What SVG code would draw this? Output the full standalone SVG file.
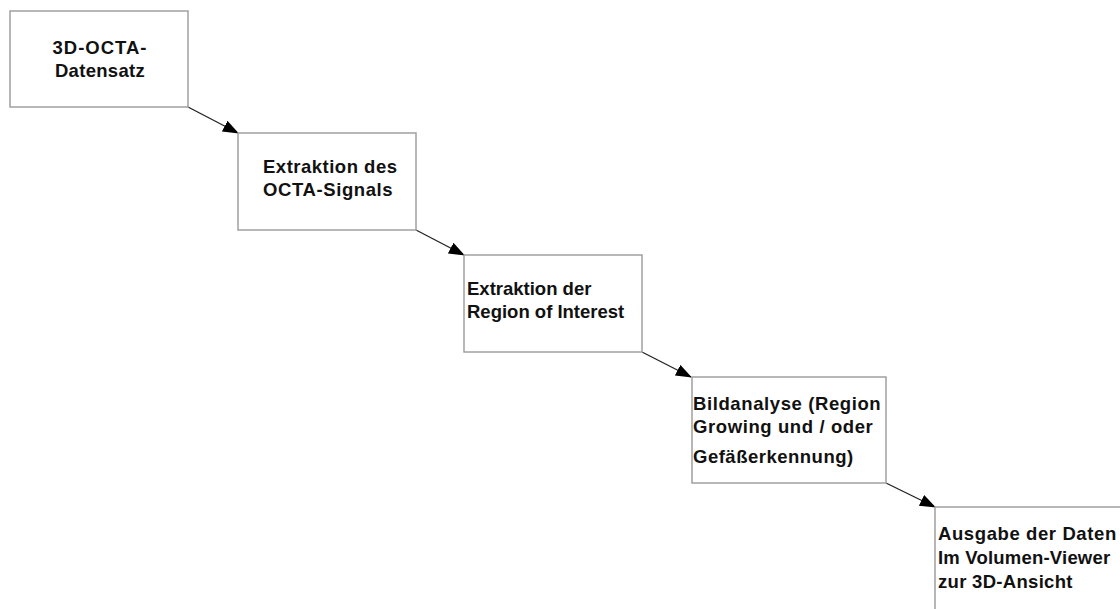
<svg xmlns="http://www.w3.org/2000/svg" width="1120" height="609" viewBox="0 0 1120 609">
<style>
.box{fill:#fff;stroke:#a0a0a0;stroke-width:1.5}
.t{font-family:"Liberation Sans",Arial,sans-serif;font-weight:bold;font-size:18.5px;fill:#111}
.c{stroke:#222;stroke-width:1.3;fill:none;marker-end:url(#ah)}
</style>
<defs>
<marker id="ah" viewBox="0 0 16 12" refX="15" refY="6" markerWidth="16" markerHeight="12" markerUnits="userSpaceOnUse" orient="auto">
<path d="M0,0 L16,6 L0,12 Z" fill="#000"/>
</marker>
</defs>
<rect width="1120" height="609" fill="#fff"/>
<g id="connectors">
<line class="c" x1="188" y1="107" x2="238" y2="133"/>
<line class="c" x1="416" y1="230" x2="464" y2="255"/>
<line class="c" x1="642" y1="352" x2="691" y2="377"/>
<line class="c" x1="886" y1="483" x2="935" y2="507"/>
</g>
<g id="n1">
<rect class="box" x="10" y="11" width="178" height="96"/>
<text class="t" x="100" y="54" text-anchor="middle" letter-spacing="1">3D-OCTA-</text>
<text class="t" x="100" y="77" text-anchor="middle" letter-spacing="0.3">Datensatz</text>
</g>
<g id="n2">
<rect class="box" x="238" y="133" width="178" height="97"/>
<text class="t" x="263" y="173" letter-spacing="0.5">Extraktion des</text>
<text class="t" x="263" y="196" letter-spacing="0.6">OCTA-Signals</text>
</g>
<g id="n3">
<rect class="box" x="464" y="255" width="178" height="97"/>
<text class="t" x="467" y="295">Extraktion der</text>
<text class="t" x="467" y="318">Region of Interest</text>
</g>
<g id="n4">
<rect class="box" x="692" y="377" width="194" height="106"/>
<text class="t" x="693" y="410" letter-spacing="0.6">Bildanalyse (Region</text>
<text class="t" x="693" y="433" letter-spacing="0.6">Growing und / oder</text>
<text class="t" x="693" y="463" letter-spacing="0.5">Gefäßerkennung)</text>
</g>
<g id="n5">
<rect class="box" x="935" y="507" width="200" height="120"/>
<text class="t" x="938" y="540" letter-spacing="0.6">Ausgabe der Daten</text>
<text class="t" x="938" y="564" letter-spacing="0.2">Im Volumen-Viewer</text>
<text class="t" x="938" y="588" letter-spacing="0.3">zur 3D-Ansicht</text>
</g>
</svg>
